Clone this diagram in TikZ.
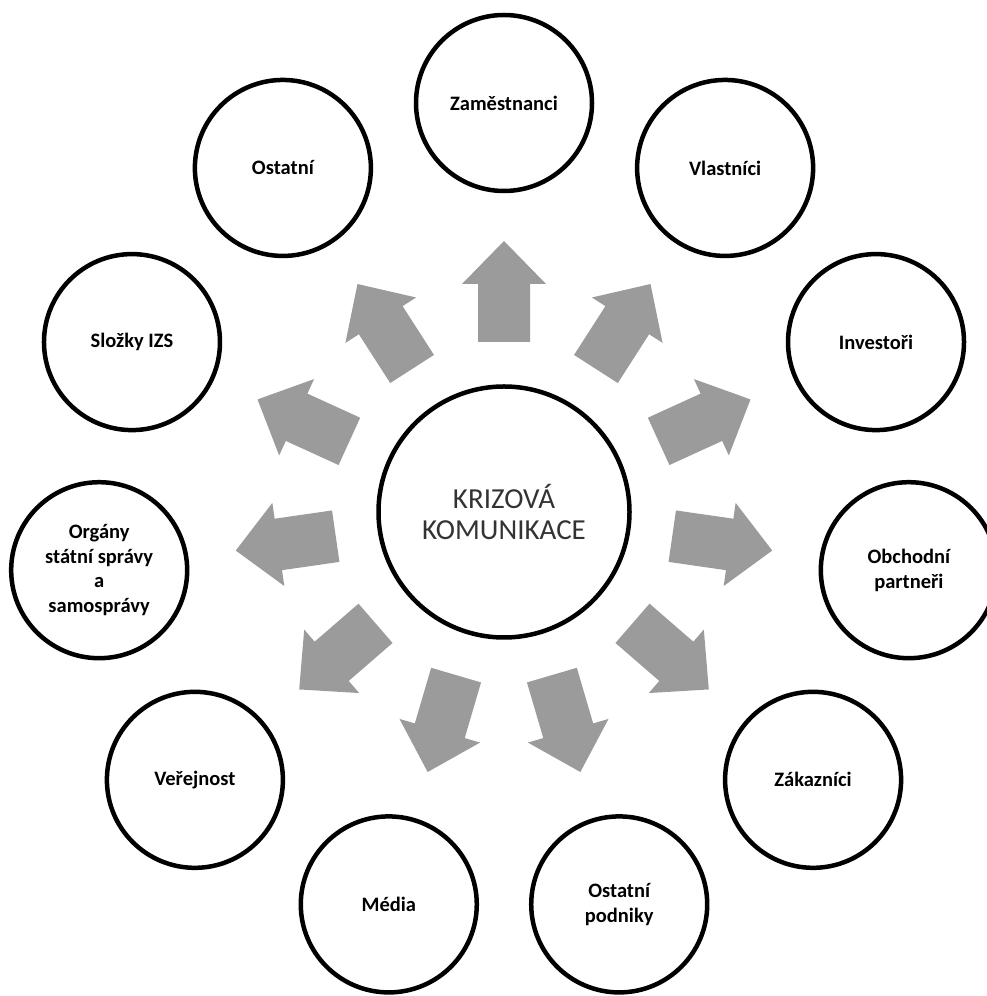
\documentclass[tikz,border=0pt]{standalone}
\usepackage{fontspec}
\setmainfont{Carlito}
\usetikzlibrary{calc}
\definecolor{arrowgray}{RGB}{155,155,155}
\begin{document}
\begin{tikzpicture}[x=1pt,y=1pt,
  hub/.style={circle, draw, line width=4.5pt, minimum size=251pt, inner sep=0pt,
    align=center, text=black!80, font=\fontsize{29}{31}\selectfont},
  party/.style={circle, draw, line width=4.5pt, minimum size=176pt, inner sep=0pt,
    align=center, font=\bfseries\fontsize{20.5}{24.5}\selectfont},
  blockarrow/.style={fill=arrowgray, draw=none}]
\useasboundingbox (0,0) rectangle (987,996);
\coordinate (C) at (504,484);

% central topic
\node[hub] (hub) at (C) {KRIZOVÁ\\KOMUNIKACE};

% stakeholder circles, evenly spaced around the hub
\foreach \lab [count=\k from 0] in {Zaměstnanci, Vlastníci, Investoři,
    {Obchodní\\partneři}, Zákazníci, {Ostatní\\podniky}, Média, Veřejnost,
    {Orgány\\státní správy\\a\\samosprávy}, {Složky IZS}, Ostatní}
  \node[party] (p\k) at ($(C)+({90-\k*360/11}:409)$) {\lab};

% block arrows pointing outwards from the hub
\foreach \k in {0,...,10}
  \fill[blockarrow, shift={(C)}, rotate={90-\k*360/11}]
    (170,-26) -- (228,-26) -- (228,-42) -- (271,0) -- (228,42) -- (228,26)
    -- (170,26) -- cycle;
\end{tikzpicture}
\end{document}
